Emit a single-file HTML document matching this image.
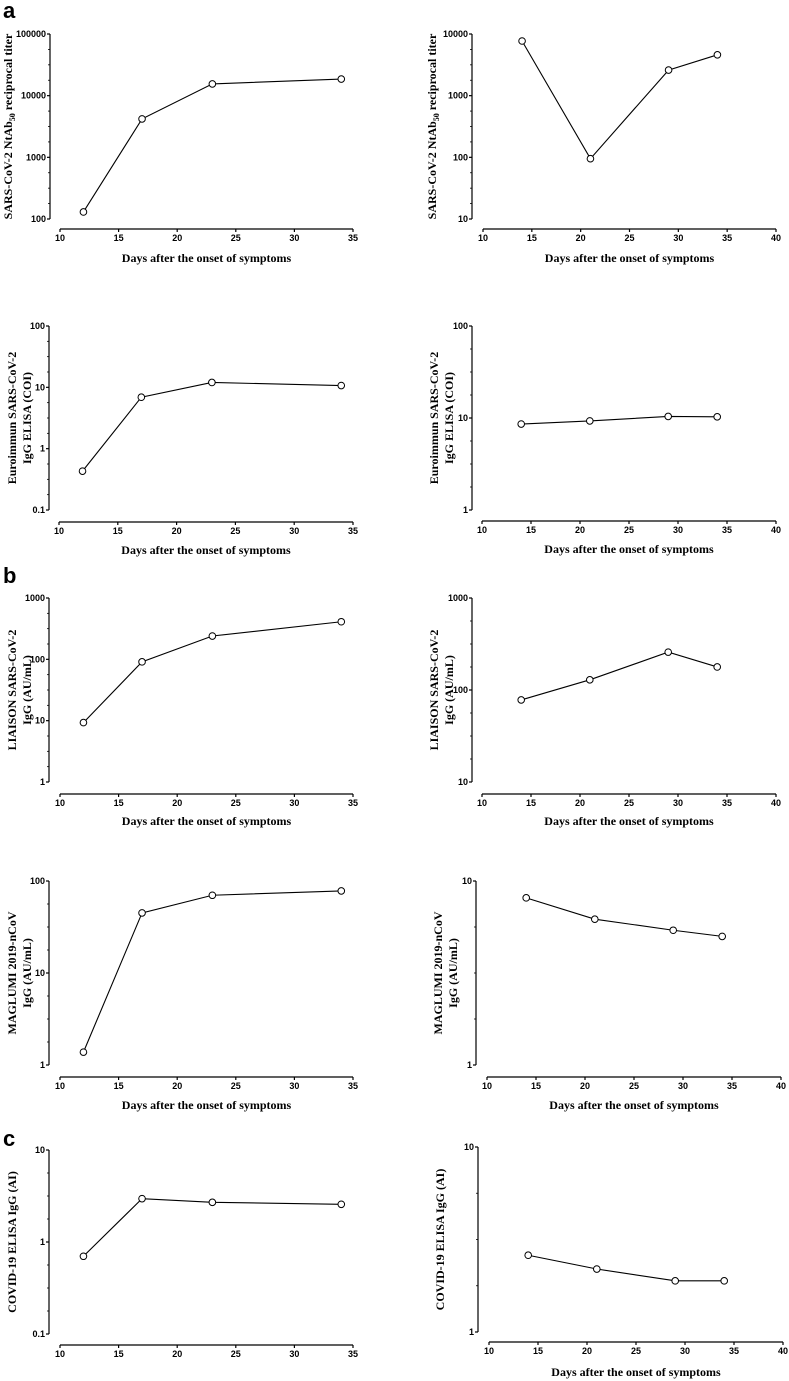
<!DOCTYPE html>
<html><head><meta charset="utf-8"><style>
body{margin:0;background:#fff;width:789px;height:1381px;overflow:hidden}
svg{display:block}
.tk{font:bold 9px "Liberation Sans",sans-serif}
.xt{font:bold 12px "Liberation Serif",serif}
.yt{font:bold 12px "Liberation Serif",serif}
.pl{font:bold 22px "Liberation Sans",sans-serif}
</style></head><body>
<svg id="c" width="789" height="1381" xmlns="http://www.w3.org/2000/svg">
<text class="pl" x="3" y="18">a</text>
<text class="pl" x="3" y="583">b</text>
<text class="pl" x="3" y="1146">c</text>
</svg>
<script>
const daysLeft=[12,17,23,34];
const daysRight=[14,21,29,34];
const ntabLeft=[130,4200,15500,18600];
const ntabRight=[7700,95,2600,4600];
const euroLeft=[0.43,6.9,12,10.7];
const euroRight=[8.6,9.3,10.4,10.3];
const liaisonLeft=[9.3,91,240,410];
const liaisonRight=[78,129,258,178];
const magLeft=[1.38,45,70,78];
const magRight=[8.1,6.2,5.4,5.0];
const covLeft=[0.70,2.96,2.7,2.57];
const covRight=[2.6,2.19,1.89,1.89];
const xTicksLeft=[10,15,20,25,30,35];
const xTicksRight=[10,15,20,25,30,35,40];

const NS="http://www.w3.org/2000/svg";
const svg=document.getElementById('c');
function el(t,a,p){const e=document.createElementNS(NS,t);for(const k in a)e.setAttribute(k,a[k]);(p||svg).appendChild(e);return e;}

const panels=[
 {name:'ntab-left',days:daysLeft,vals:ntabLeft,ax:50,top:34,bot:219,lmin:2,lmax:5,xy:229,x0:60,x1:353,xmax:35,xt:xTicksLeft,title:['SARS-CoV-2 NtAb50 reciprocal titer'],tx:8,lab:258},
 {name:'ntab-right',days:daysRight,vals:ntabRight,ax:472,top:34,bot:219,lmin:1,lmax:4,xy:229,x0:483,x1:776,xmax:40,xt:xTicksRight,title:['SARS-CoV-2 NtAb50 reciprocal titer'],tx:432,lab:258},
 {name:'euro-left',days:daysLeft,vals:euroLeft,ax:49,top:326,bot:510,lmin:-1,lmax:2,xy:522,x0:59,x1:353,xmax:35,xt:xTicksLeft,title:['Euroimmun SARS-CoV-2','IgG ELISA (COI)'],tx:12,lab:550},
 {name:'euro-right',days:daysRight,vals:euroRight,ax:472,top:326,bot:510,lmin:0,lmax:2,xy:521,x0:482,x1:776,xmax:40,xt:xTicksRight,title:['Euroimmun SARS-CoV-2','IgG ELISA (COI)'],tx:434,lab:549},
 {name:'liaison-left',days:daysLeft,vals:liaisonLeft,ax:49,top:598,bot:782,lmin:0,lmax:3,xy:794,x0:60,x1:353,xmax:35,xt:xTicksLeft,title:['LIAISON SARS-CoV-2','IgG (AU/mL)'],tx:12,lab:821},
 {name:'liaison-right',days:daysRight,vals:liaisonRight,ax:472,top:598,bot:782,lmin:1,lmax:3,xy:794,x0:482,x1:776,xmax:40,xt:xTicksRight,title:['LIAISON SARS-CoV-2','IgG (AU/mL)'],tx:434,lab:821},
 {name:'maglumi-left',days:daysLeft,vals:magLeft,ax:49,top:881,bot:1065,lmin:0,lmax:2,xy:1077,x0:60,x1:353,xmax:35,xt:xTicksLeft,title:['MAGLUMI 2019-nCoV','IgG (AU/mL)'],tx:12,lab:1105},
 {name:'maglumi-right',days:daysRight,vals:magRight,ax:476,top:881,bot:1065,lmin:0,lmax:1,xy:1077,x0:487,x1:781,xmax:40,xt:xTicksRight,title:['MAGLUMI 2019-nCoV','IgG (AU/mL)'],tx:438,lab:1105},
 {name:'covid-left',days:daysLeft,vals:covLeft,ax:49,top:1150,bot:1334,lmin:-1,lmax:1,xy:1345,x0:60,x1:353,xmax:35,xt:xTicksLeft,title:['COVID-19 ELISA IgG (AI)'],tx:12,lab:null},
 {name:'covid-right',days:daysRight,vals:covRight,ax:478,top:1147,bot:1332,lmin:0,lmax:1,xy:1342,x0:489,x1:783,xmax:40,xt:xTicksRight,title:['COVID-19 ELISA IgG (AI)'],tx:440,lab:1372}
];
function fmt(v){return v<1?String(v):String(Math.round(v));}
panels.forEach(p=>{
 const g=el('g',{});
 
 
 const ys=v=>p.bot-(Math.log10(v)-p.lmin)/(p.lmax-p.lmin)*(p.bot-p.top);
 const xs=d=>p.x0+(d-10)/(p.xmax-10)*(p.x1-p.x0);
 const ya=el('line',{x1:p.ax,y1:p.top,x2:p.ax,y2:p.bot,stroke:'#000','stroke-width':1.2},g);
 
 
 for(let l=p.lmin;l<=p.lmax;l++){
  const v=Math.pow(10,l),y=ys(v);
  el('line',{x1:p.ax-3,y1:y,x2:p.ax,y2:y,stroke:'#000','stroke-width':1.2},g);
  const t=el('text',{x:p.ax-4,y:y+3,'text-anchor':'end',class:'tk'},g);t.textContent=fmt(v);
  
  
  if(l<p.lmax){for(let q=1;q<4;q++){const yy=y-q/4*(p.bot-p.top)/(p.lmax-p.lmin);el('line',{x1:p.ax-2,y1:yy,x2:p.ax,y2:yy,stroke:'#000','stroke-width':0.8},g);}}
 }
 const xa=el('line',{x1:p.x0,y1:p.xy,x2:p.x1,y2:p.xy,stroke:'#000','stroke-width':1.2},g);
 
 
 p.xt.forEach(d=>{const x=xs(d);el('line',{x1:x,y1:p.xy,x2:x,y2:p.xy+3,stroke:'#000','stroke-width':1.2},g);
  const t=el('text',{x:x,y:p.xy+12,'text-anchor':'middle',class:'tk'},g);t.textContent=d;
  
  });
 if(p.lab){const t=el('text',{x:(p.x0+p.x1)/2,y:p.lab+4,'text-anchor':'middle',class:'xt'},g);t.textContent='Days after the onset of symptoms';
  
  }
 const cy=(p.top+p.bot)/2;
 p.title.forEach((s,i)=>{const x=p.tx+i*15+4;const t=el('text',{x:x,y:cy,'text-anchor':'middle',class:'yt',transform:`rotate(-90 ${x} ${cy})`},g);
  if(s.indexOf('NtAb50')>=0){t.appendChild(document.createTextNode('SARS-CoV-2 NtAb'));const ts=el('tspan',{'font-size':'8px',dy:3},t);ts.textContent='50';const t2=el('tspan',{dy:-3},t);t2.textContent=' reciprocal titer';}
  else t.textContent=s;
  
  });
 const pts=p.days.map((d,i)=>xs(d)+','+ys(p.vals[i])).join(' ');
 const pl=el('polyline',{points:pts,fill:'none',stroke:'#000','stroke-width':1.1},g);
 
 
 p.days.forEach((d,i)=>{const c=el('circle',{cx:xs(d),cy:ys(p.vals[i]),r:3.3,fill:'#fff',stroke:'#000','stroke-width':1},g);
  
  });
});
</script>
</body></html>
